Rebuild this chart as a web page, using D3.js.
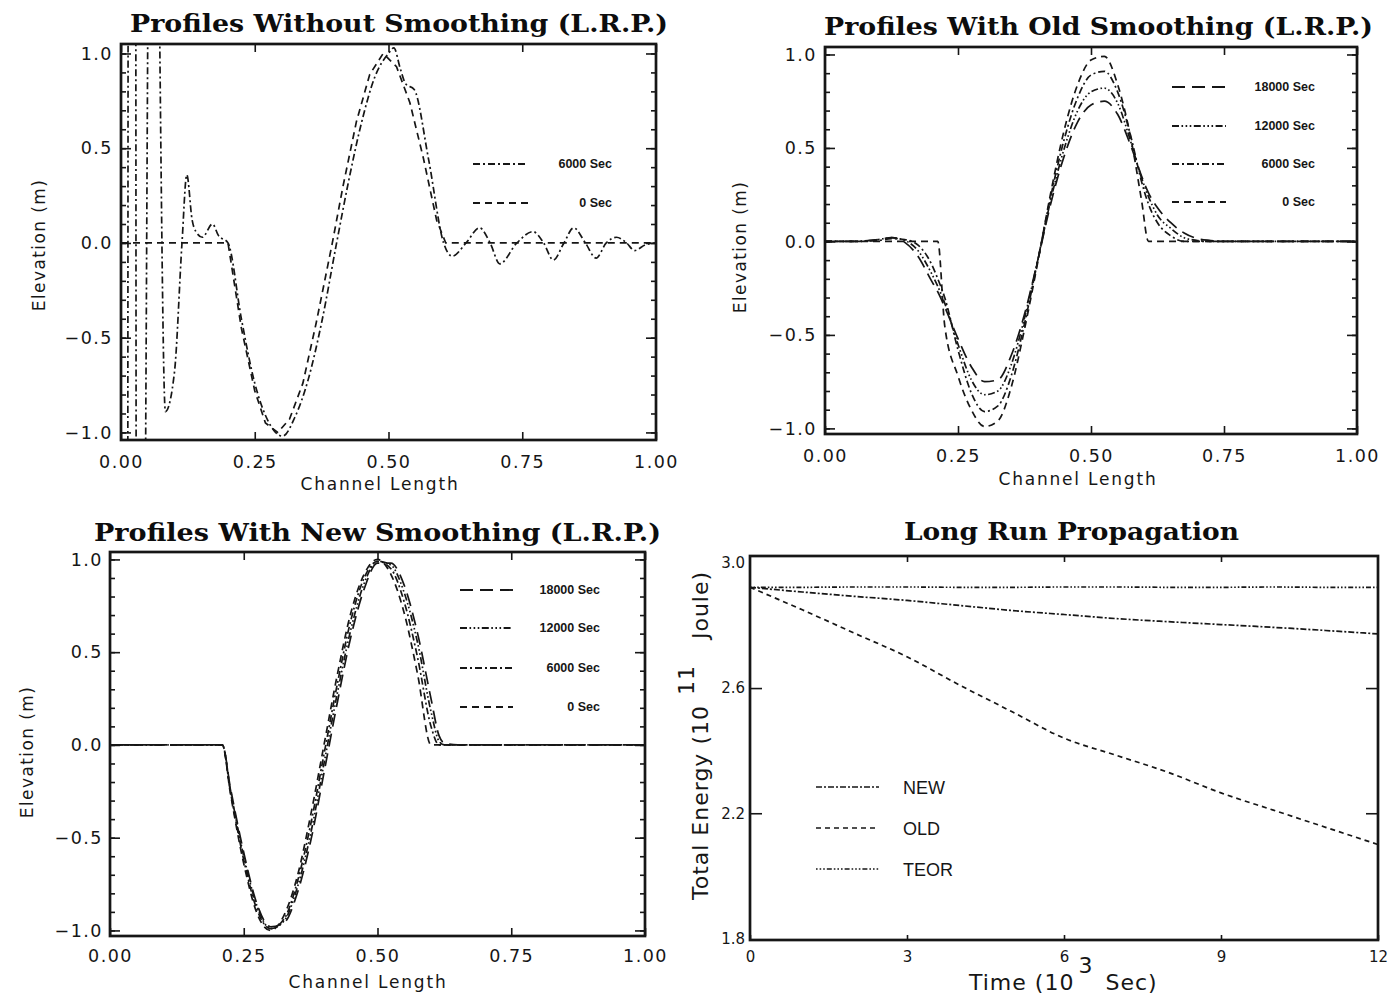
<!DOCTYPE html>
<html>
<head>
<meta charset="utf-8">
<script src="https://cdn.jsdelivr.net/npm/d3@7/dist/d3.min.js"></script>
<style>
  html, body { margin: 0; padding: 0; background: #fff; }
  svg { display: block; }
</style>
</head>
<body>
<svg id="chart" width="1390" height="998"></svg>
<script>
// ---------- Profiles without smoothing ----------
const rawX0 = [0, 0.2, 0.225, 0.25, 0.27, 0.293, 0.315, 0.34, 0.365, 0.395, 0.415, 0.44, 0.465, 0.49, 0.515, 0.54, 0.565, 0.59, 0.607, 1.0];
const rawY0 = [0, 0, -0.45, -0.78, -0.95, -1, -0.93, -0.74, -0.42, 0, 0.3, 0.64, 0.89, 1, 0.93, 0.74, 0.45, 0.12, 0, 0];
const rawX6000 = [0, 0.012, 0.014, 0.027, 0.029, 0.040, 0.056, 0.062, 0.083, 0.100, 0.114, 0.123, 0.133, 0.140, 0.152, 0.171, 0.182, 0.200,
  0.225, 0.250, 0.275, 0.302, 0.325, 0.350, 0.375, 0.403, 0.425, 0.450, 0.475, 0.500, 0.510, 0.522, 0.532, 0.548, 0.575, 0.603,
  0.619, 0.645, 0.670, 0.690, 0.708, 0.740, 0.770, 0.790, 0.808, 0.828, 0.846, 0.868, 0.888, 0.907, 0.926, 0.945, 0.960, 0.980, 1.000];
const rawY6000 = [-3, -3, 3, 3, -3, -3, 3, 3, -0.89, -0.68, 0, 0.36, 0.12, 0.06, 0.03, 0.1, 0.04, 0,
  -0.4, -0.74, -0.94, -1.02, -0.92, -0.72, -0.42, 0, 0.32, 0.64, 0.88, 1.0, 1.03, 0.92, 0.84, 0.81, 0.44, 0,
  -0.07, 0, 0.08, 0, -0.11, 0, 0.06, 0, -0.09, 0, 0.08, 0, -0.08, 0, 0.03, 0, -0.04, -0.01, 0];

// ---------- Profiles with old smoothing ----------
const oldX = [0, 0.05, 0.1, 0.125, 0.15, 0.175, 0.2, 0.212, 0.225, 0.25, 0.275, 0.3, 0.325, 0.35, 0.375, 0.4, 0.425, 0.45, 0.475, 0.5,
  0.525, 0.55, 0.575, 0.595, 0.608, 0.625, 0.65, 0.675, 0.7, 0.725, 0.75, 0.8, 1.0];
const old0 = [0, 0, 0, 0, 0, 0, 0, 0, -0.45, -0.72, -0.9, -0.99, -0.96, -0.78, -0.47, -0.11, 0.27, 0.6, 0.84, 0.97,
  0.99, 0.84, 0.55, 0.22, 0, 0, 0, 0, 0, 0, 0, 0, 0];
const old6000 = [0, 0, 0.005, 0.015, 0.01, -0.02, -0.12, -0.2, -0.3, -0.58, -0.81, -0.91, -0.88, -0.72, -0.44, -0.1, 0.25, 0.55, 0.77, 0.89,
  0.91, 0.8, 0.56, 0.32, 0.2, 0.1, 0.03, 0, 0, 0, 0, 0, 0];
const old12000 = [0, 0, 0.01, 0.02, 0.005, -0.05, -0.17, -0.24, -0.33, -0.55, -0.74, -0.82, -0.8, -0.66, -0.41, -0.1, 0.23, 0.5, 0.7, 0.8,
  0.82, 0.74, 0.53, 0.34, 0.24, 0.14, 0.07, 0.02, 0.005, 0, 0, 0, 0];
const old18000 = [0, 0, 0.01, 0.02, -0.005, -0.08, -0.21, -0.27, -0.35, -0.52, -0.67, -0.75, -0.74, -0.61, -0.39, -0.1, 0.21, 0.46, 0.64, 0.73,
  0.75, 0.68, 0.51, 0.35, 0.26, 0.18, 0.1, 0.045, 0.015, 0.005, 0, 0, 0];

// ---------- Profiles with new smoothing ----------
const newX = [0, 0.2, 0.21, 0.225, 0.25, 0.275, 0.3, 0.325, 0.35, 0.375, 0.4, 0.425, 0.45, 0.475, 0.5, 0.525, 0.55, 0.575, 0.6, 0.615, 0.625, 0.65, 1.0];
const new0 = [0, 0, 0, -0.26, -0.64, -0.91, -1, -0.92, -0.71, -0.38, 0, 0.38, 0.71, 0.92, 1, 0.92, 0.71, 0.38, 0, 0, 0, 0, 0];
const new6000 = [0, 0, 0, -0.25, -0.62, -0.89, -0.99, -0.94, -0.74, -0.43, -0.05, 0.33, 0.67, 0.9, 0.99, 0.95, 0.77, 0.47, 0.1, 0, 0, 0, 0];
const new12000 = [0, 0, 0, -0.24, -0.6, -0.87, -0.99, -0.95, -0.77, -0.48, -0.1, 0.28, 0.62, 0.87, 0.99, 0.97, 0.82, 0.55, 0.18, 0.02, 0, 0, 0];
const new18000 = [0, 0, 0, -0.23, -0.58, -0.86, -0.98, -0.96, -0.8, -0.52, -0.15, 0.23, 0.58, 0.84, 0.98, 0.98, 0.86, 0.6, 0.25, 0.05, 0.01, 0, 0];

// ---------- Long run total energy (10^11 J) against time (10^3 s) ----------
const timeK = [0, 1, 2, 3, 4, 5, 6, 7, 8, 9, 10, 11, 12];
const energyNew = [2.922, 2.907, 2.893, 2.880, 2.864, 2.848, 2.835, 2.822, 2.812, 2.803, 2.794, 2.784, 2.773];
const energyOld = [2.922, 2.850, 2.775, 2.700, 2.610, 2.525, 2.440, 2.385, 2.330, 2.265, 2.210, 2.155, 2.100];
const energyTeor = [2.922, 2.922, 2.923, 2.923, 2.922, 2.922, 2.923, 2.923, 2.922, 2.922, 2.923, 2.922, 2.922];

// ---------- Tick values and labels ----------
const channelTicks = [0, 0.25, 0.5, 0.75, 1];
const elevMajor = [-1, -0.5, 0, 0.5, 1];
const elevMinor = [-1, -0.9, -0.8, -0.7, -0.6, -0.5, -0.4, -0.3, -0.2, -0.1, 0, 0.1, 0.2, 0.3, 0.4, 0.5, 0.6, 0.7, 0.8, 0.9, 1];
const timeTicks = [0, 3, 6, 9, 12];
const energyTicks = [1.8, 2.2, 2.6, 3.0];
const legendTimes4 = ["18000 Sec", "12000 Sec", "6000 Sec", "0 Sec"];
const legendTimes2 = ["6000 Sec", "0 Sec"];
const energyLegend = ["NEW", "OLD", "TEOR"];

// ---------- Drawing ----------
const svg = d3.select("#chart");
const defs = svg.append("defs");
const INK = "#161616";
const SANS = "'DejaVu Sans', sans-serif";

const DASH = {
  dashed: "7,5",
  dashDot: "7,3,2,3",
  dashDot3: "7,2.5,1.6,2.5,1.6,2.5,1.6,2.5",
  longDash: "13,7",
  energyNew: "6,2,2,2",
  energyOld: "5,4",
  energyTeor: "1.6,2,1.6,2,1.6,2,5,2"
};

function styleAxis(sel, fontSize, spacing) {
  sel.select(".domain").remove();
  sel.selectAll(".tick line").attr("stroke", INK).attr("stroke-width", 1.6);
  sel.selectAll("text")
    .attr("fill", INK)
    .attr("font-family", SANS)
    .attr("font-size", fontSize)
    .attr("letter-spacing", spacing);
}

function title(text, x0, x1, yBase) {
  svg.append("text")
    .attr("x", x0).attr("y", yBase)
    .attr("textLength", x1 - x0)
    .attr("lengthAdjust", "spacingAndGlyphs")
    .attr("font-family", "'DejaVu Serif', 'Liberation Serif', serif")
    .attr("font-weight", "bold")
    .attr("font-size", 25)
    .attr("fill", "#0d0d0d")
    .text(text);
}

function profilePanel(s) {
  const g = svg.append("g");
  const x = d3.scaleLinear().domain([0, 1]).range([s.left, s.right]);
  const y = d3.scaleLinear().domain(s.yDomain).range([s.bottom, s.top]);
  const clipId = "clip-" + s.id;
  defs.append("clipPath").attr("id", clipId).append("rect")
    .attr("x", s.left).attr("y", s.top)
    .attr("width", s.right - s.left).attr("height", s.bottom - s.top);

  // axes: labelled bottom and left, plain ticks on top and right
  g.append("g").attr("transform", `translate(0,${s.bottom})`)
    .call(d3.axisBottom(x).tickValues(channelTicks).tickFormat(d3.format(".2f")).tickSize(-8).tickPadding(s.xPad))
    .call(a => styleAxis(a, 17.5, 1.5));
  g.append("g").attr("transform", `translate(0,${s.top})`)
    .call(d3.axisTop(x).tickValues(channelTicks).tickFormat("").tickSize(-8))
    .call(a => styleAxis(a, 17, 0));
  g.append("g").attr("transform", `translate(${s.left},0)`)
    .call(d3.axisLeft(y).tickValues(elevMajor).tickFormat(d3.format(".1f")).tickSize(-10).tickPadding(s.yPad))
    .call(a => styleAxis(a, 17.5, 1.5));
  g.append("g").attr("transform", `translate(${s.left},0)`)
    .call(d3.axisLeft(y).tickValues(elevMinor).tickFormat("").tickSize(-5))
    .call(a => styleAxis(a, 17, 0));
  g.append("g").attr("transform", `translate(${s.right},0)`)
    .call(d3.axisRight(y).tickValues(elevMajor).tickFormat("").tickSize(-10))
    .call(a => styleAxis(a, 17, 0));
  g.append("g").attr("transform", `translate(${s.right},0)`)
    .call(d3.axisRight(y).tickValues(elevMinor).tickFormat("").tickSize(-5))
    .call(a => styleAxis(a, 17, 0));

  // profiles
  const plot = g.append("g").attr("clip-path", `url(#${clipId})`);
  s.series.forEach(sr => {
    const line = d3.line()
      .x(i => x(sr.xs[i]))
      .y(i => y(sr.ys[i]))
      .curve(sr.curve || d3.curveMonotoneX);
    plot.append("path")
      .attr("d", line(d3.range(sr.xs.length)))
      .attr("fill", "none")
      .attr("stroke", INK)
      .attr("stroke-width", 1.7)
      .attr("stroke-dasharray", sr.dash);
  });

  // frame
  g.append("rect")
    .attr("x", s.left).attr("y", s.top)
    .attr("width", s.right - s.left).attr("height", s.bottom - s.top)
    .attr("fill", "none").attr("stroke", INK).attr("stroke-width", 2.7);

  // legend
  const lg = s.legend;
  lg.labels.forEach((lab, i) => {
    const yy = lg.ys[i];
    g.append("line")
      .attr("x1", lg.x0).attr("x2", lg.x1).attr("y1", yy).attr("y2", yy)
      .attr("stroke", INK).attr("stroke-width", 1.9)
      .attr("stroke-dasharray", lg.dashes[i]);
    g.append("text")
      .attr("x", lg.textRight).attr("y", yy + 4)
      .attr("text-anchor", "end")
      .attr("font-family", "'Liberation Sans', Arial, sans-serif")
      .attr("font-weight", "bold")
      .attr("font-size", 12.5)
      .attr("fill", INK)
      .text(lab);
  });

  // axis titles
  g.append("text")
    .attr("x", s.xLabel[0]).attr("y", s.xLabel[1])
    .attr("text-anchor", "middle")
    .attr("font-family", SANS).attr("font-size", 17).attr("letter-spacing", 1.8)
    .attr("fill", INK)
    .text("Channel Length");
  g.append("text")
    .attr("transform", `translate(${s.yLabel[0]},${s.yLabel[1]}) rotate(-90)`)
    .attr("text-anchor", "middle")
    .attr("font-family", SANS).attr("font-size", 17).attr("letter-spacing", 1.4)
    .attr("fill", INK)
    .text("Elevation (m)");

  title(s.title, s.titleX[0], s.titleX[1], s.titleY);
}

const legend4Dashes = [DASH.longDash, DASH.dashDot3, DASH.dashDot, DASH.dashed];

profilePanel({
  id: "raw", left: 121, right: 656, top: 44, bottom: 440, yDomain: [-1.04, 1.05],
  xPad: 16, yPad: 8,
  title: "Profiles Without Smoothing (L.R.P.)", titleX: [130, 668], titleY: 32,
  xLabel: [380, 490], yLabel: [45, 245],
  series: [
    { xs: rawX0, ys: rawY0, dash: DASH.dashed, curve: d3.curveLinear },
    { xs: rawX6000, ys: rawY6000, dash: DASH.dashDot, curve: d3.curveMonotoneX }
  ],
  legend: { x0: 473, x1: 528, textRight: 612, ys: [164, 203], labels: legendTimes2, dashes: [DASH.dashDot, DASH.dashed] }
});

profilePanel({
  id: "old", left: 825, right: 1357, top: 47, bottom: 434, yDomain: [-1.03, 1.04],
  xPad: 16, yPad: 8,
  title: "Profiles With Old Smoothing (L.R.P.)", titleX: [824, 1373], titleY: 35,
  xLabel: [1078, 485], yLabel: [746, 247],
  series: [
    { xs: oldX, ys: old0, dash: DASH.dashed },
    { xs: oldX, ys: old6000, dash: DASH.dashDot },
    { xs: oldX, ys: old12000, dash: DASH.dashDot3 },
    { xs: oldX, ys: old18000, dash: DASH.longDash }
  ],
  legend: { x0: 1172, x1: 1226, textRight: 1315, ys: [87, 126, 164, 202], labels: legendTimes4, dashes: legend4Dashes }
});

profilePanel({
  id: "new", left: 110, right: 645, top: 552, bottom: 936, yDomain: [-1.03, 1.04],
  xPad: 14, yPad: 7,
  title: "Profiles With New Smoothing (L.R.P.)", titleX: [94, 661], titleY: 541,
  xLabel: [368, 988], yLabel: [33, 752],
  series: [
    { xs: newX, ys: new0, dash: DASH.dashed },
    { xs: newX, ys: new6000, dash: DASH.dashDot },
    { xs: newX, ys: new12000, dash: DASH.dashDot3 },
    { xs: newX, ys: new18000, dash: DASH.longDash }
  ],
  legend: { x0: 460, x1: 513, textRight: 600, ys: [590, 628, 668, 707], labels: legendTimes4, dashes: legend4Dashes }
});

// ---------- Energy panel ----------
(function energyPanel() {
  const L = 750, R = 1378, T = 556, B = 940;
  const g = svg.append("g");
  const x = d3.scaleLinear().domain([0, 12]).range([L, R]);
  const y = d3.scaleLinear().domain([1.795, 3.022]).range([B, T]);
  defs.append("clipPath").attr("id", "clip-energy").append("rect")
    .attr("x", L).attr("y", T).attr("width", R - L).attr("height", B - T);

  g.append("g").attr("transform", `translate(0,${B})`)
    .call(d3.axisBottom(x).tickValues(timeTicks).tickFormat(d3.format("d")).tickSize(-5).tickPadding(11))
    .call(a => styleAxis(a, 15, 0));
  g.append("g").attr("transform", `translate(0,${T})`)
    .call(d3.axisTop(x).tickValues([3, 6, 9]).tickFormat("").tickSize(-6))
    .call(a => styleAxis(a, 15, 0));
  g.append("g").attr("transform", `translate(${L},0)`)
    .call(d3.axisLeft(y).tickValues(energyTicks).tickFormat(d3.format(".1f")).tickSize(0).tickPadding(5))
    .call(a => styleAxis(a, 15, 0));
  g.append("g").attr("transform", `translate(${L},0)`)
    .call(d3.axisLeft(y).tickValues([2.2, 2.6]).tickFormat("").tickSize(-12))
    .call(a => styleAxis(a, 15, 0));
  g.append("g").attr("transform", `translate(${R},0)`)
    .call(d3.axisRight(y).tickValues([2.2, 2.6]).tickFormat("").tickSize(-12))
    .call(a => styleAxis(a, 15, 0));

  const plot = g.append("g").attr("clip-path", "url(#clip-energy)");
  const series = [
    { ys: energyTeor, dash: DASH.energyTeor },
    { ys: energyNew, dash: DASH.energyNew },
    { ys: energyOld, dash: DASH.energyOld }
  ];
  series.forEach(sr => {
    const line = d3.line().x(i => x(timeK[i])).y(i => y(sr.ys[i])).curve(d3.curveMonotoneX);
    plot.append("path")
      .attr("d", line(d3.range(timeK.length)))
      .attr("fill", "none").attr("stroke", INK).attr("stroke-width", 1.7)
      .attr("stroke-dasharray", sr.dash);
  });

  g.append("rect")
    .attr("x", L).attr("y", T).attr("width", R - L).attr("height", B - T)
    .attr("fill", "none").attr("stroke", INK).attr("stroke-width", 2.7);

  // legend
  const legYs = [787, 828, 869];
  const legDash = [DASH.energyNew, DASH.energyOld, DASH.energyTeor];
  energyLegend.forEach((lab, i) => {
    g.append("line")
      .attr("x1", 816).attr("x2", 879).attr("y1", legYs[i]).attr("y2", legYs[i])
      .attr("stroke", INK).attr("stroke-width", 1.7).attr("stroke-dasharray", legDash[i]);
    g.append("text")
      .attr("x", 903).attr("y", legYs[i] + 7)
      .attr("font-family", "'Liberation Sans', Arial, sans-serif")
      .attr("font-size", 18).attr("fill", INK)
      .text(lab);
  });

  // axis titles with exponents
  const xt = g.append("text")
    .attr("x", 969).attr("y", 990)
    .attr("font-family", SANS).attr("font-size", 22).attr("letter-spacing", 1)
    .attr("fill", INK);
  xt.append("tspan").text("Time (10");
  xt.append("tspan").attr("dx", 4).attr("dy", -17).text("3");
  xt.append("tspan").attr("dx", 12).attr("dy", 17).text("Sec)");

  const yt = g.append("text")
    .attr("transform", "translate(708,900) rotate(-90)")
    .attr("font-family", SANS).attr("font-size", 22).attr("letter-spacing", 1)
    .attr("fill", INK);
  yt.append("tspan").text("Total Energy (10");
  yt.append("tspan").attr("dx", 10).attr("dy", -14).text("11");
  yt.append("tspan").attr("dx", 26).attr("dy", 14).text("Joule)");

  title("Long Run Propagation", 904, 1239, 540);
})();
</script>
</body>
</html>
